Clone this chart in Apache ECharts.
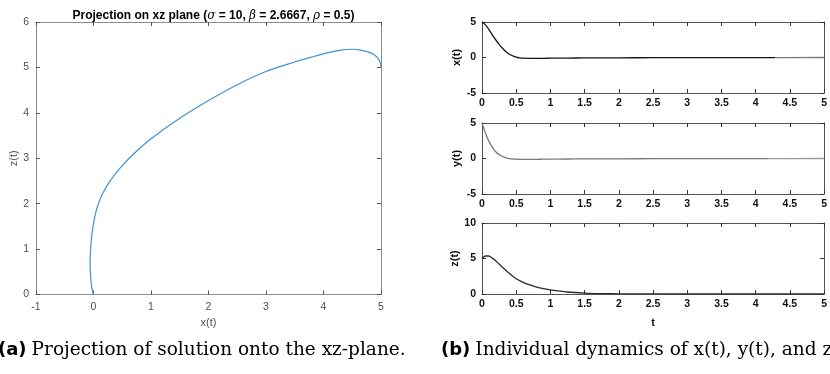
<!DOCTYPE html>
<html><head><meta charset="utf-8">
<script src="https://cdn.jsdelivr.net/npm/echarts@6/dist/echarts.min.js"></script>
<style>html,body{margin:0;padding:0;background:#fff}#c{width:830px;height:374px}</style>
</head><body><div id="c"></div>
<script>
// ---- data ----
const projX = [5, 4.99, 4.95, 4.88, 4.8, 4.65, 4.5, 4.3, 4.1, 3.8, 3.5, 3.0, 2.5, 2.0, 1.5, 1.0, 0.72, 0.48, 0.29, 0.15, 0.06, 0.01, -0.03, -0.05, -0.06, -0.05, -0.03, 0];
const projZ = [5.0, 5.1, 5.2, 5.28, 5.33, 5.38, 5.40, 5.38, 5.33, 5.23, 5.12, 4.91, 4.62, 4.27, 3.88, 3.43, 3.12, 2.81, 2.5, 2.2, 1.9, 1.64, 1.3, 1.0, 0.7, 0.4, 0.15, 0];
const tVals = [0, 0.05, 0.1, 0.15, 0.2, 0.25, 0.3, 0.35, 0.4, 0.45, 0.5, 0.55, 0.6, 0.7, 0.8, 0.9, 1.0, 1.25, 1.5, 1.75, 2.0, 2.5, 3, 4, 5];
const xVals = [5, 4.6, 3.95, 3.2, 2.5, 1.85, 1.3, 0.8, 0.45, 0.22, 0.05, -0.05, -0.1, -0.12, -0.12, -0.11, -0.1, -0.08, -0.06, -0.05, -0.04, -0.03, -0.02, -0.01, 0];
const yVals = [5, 3.6, 2.45, 1.6, 0.95, 0.55, 0.3, 0.1, -0.02, -0.07, -0.1, -0.11, -0.12, -0.12, -0.11, -0.1, -0.09, -0.07, -0.06, -0.05, -0.04, -0.03, -0.02, -0.01, 0];
const zVals = [5, 5.35, 5.35, 5.05, 4.68, 4.22, 3.75, 3.3, 2.9, 2.5, 2.15, 1.88, 1.65, 1.28, 0.98, 0.76, 0.58, 0.28, 0.13, 0.06, 0.03, 0.01, 0, 0, 0];
const tickLabelsLeftX = ['-1','0','1','2','3','4','5'];

// ---- chart ----
const chart = echarts.init(document.getElementById('c'), null, {renderer:'canvas'});
const sans = 'Liberation Sans';
const grids = [
  {left:36, right:449, top:22, height:272.5},
  {left:482, right:2, top:22, height:71},
  {left:482, right:2, top:123, height:71},
  {left:482, right:2, top:223, height:71}
];
function mkX(gi, pos, min, max, interval, opts) {
  const show = pos === 'bottom';
  return Object.assign({
    type:'value', gridIndex:gi, position:pos, min:min, max:max, interval:interval,
    splitLine:{show:false},
    axisLine:{show:true, onZero:false, lineStyle:{color: gi===0?'#8c8c8c':'#555', width:1}},
    axisTick:{show:true, inside:true, length:4, lineStyle:{color: gi===0?'#555':'#333'}},
    axisLabel:{show:show}
  }, opts||{});
}
function mkY(gi, pos, min, max, interval, opts) {
  const show = pos === 'left';
  return Object.assign({
    type:'value', gridIndex:gi, position:pos, min:min, max:max, interval:interval,
    splitLine:{show:false},
    axisLine:{show:true, onZero:false, lineStyle:{color: gi===0?'#8c8c8c':'#555', width:1}},
    axisTick:{show:true, inside:true, length:4, lineStyle:{color: gi===0?'#555':'#333'}},
    axisLabel:{show:show}
  }, opts||{});
}
const leftLbl = {show:true, color:'#4d4d4d', fontFamily:sans, fontSize:10.5, margin:7};
const rightLblX = {show:true, color:'#111', fontFamily:sans, fontWeight:'bold', fontSize:10.5, margin:5};
const rightLblY = {show:true, color:'#111', fontFamily:sans, fontWeight:'bold', fontSize:10.5, margin:6};
const xAxes = [
  mkX(0,'bottom',-1,5,1,{axisLabel:Object.assign({}, leftLbl, {formatter:(v)=>tickLabelsLeftX[Math.round(v)+1]}), name:'x(t)', nameLocation:'middle', nameGap:22, nameTextStyle:{color:'#4d4d4d', fontFamily:sans, fontSize:11}}),
  mkX(0,'top',-1,5,1),
  mkX(1,'bottom',0,5,0.5,{axisLabel:rightLblX}),
  mkX(1,'top',0,5,0.5),
  mkX(2,'bottom',0,5,0.5,{axisLabel:rightLblX}),
  mkX(2,'top',0,5,0.5),
  mkX(3,'bottom',0,5,0.5,{axisLabel:rightLblX, name:'t', nameLocation:'middle', nameGap:23, nameTextStyle:{color:'#111', fontFamily:sans, fontWeight:'bold', fontSize:11}}),
  mkX(3,'top',0,5,0.5)
];
const yName = (n)=>({name:n, nameLocation:'middle', nameRotate:90, nameGap:16, nameTextStyle:{color:'#111', fontFamily:sans, fontWeight:'bold', fontSize:11}});
const yAxes = [
  mkY(0,'left',0,6,1,{axisLabel:Object.assign({}, leftLbl, {margin:7}), name:'z(t)', nameLocation:'middle', nameRotate:90, nameGap:16, nameTextStyle:{color:'#4d4d4d', fontFamily:sans, fontSize:11}}),
  mkY(0,'right',0,6,1),
  mkY(1,'left',-5,5,5,Object.assign({axisLabel:rightLblY}, yName('x(t)'))),
  mkY(1,'right',-5,5,5),
  mkY(2,'left',-5,5,5,Object.assign({axisLabel:rightLblY}, yName('y(t)'))),
  mkY(2,'right',-5,5,5),
  mkY(3,'left',0,10,5,Object.assign({axisLabel:rightLblY}, yName('z(t)'))),
  mkY(3,'right',0,10,5)
];
const pairs = (a,b)=>a.map((v,i)=>[v,b[i]]);
const capRich = {
  b:{fontFamily:'DejaVu Sans', fontWeight:'bold', fontSize:18, color:'#000'},
  s:{fontFamily:'DejaVu Serif', fontWeight:'normal', fontSize:18.5, color:'#000'}
};
// hard colour switch along t (line rendering shade change seen in the reference)
function splitGrad(a, b, off) {
  return {type:'linear', x:0, y:0, x2:1, y2:0, colorStops:[
    {offset:0, color:a}, {offset:off, color:a}, {offset:off, color:b}, {offset:1, color:b}]};
}
const option = {
  animation:false,
  backgroundColor:'#fff',
  title:[
    {text:'Projection on xz plane ({i|σ} = 10, {i|β} = 2.6667, {i|ρ} = 0.5)', left:208.5, textAlign:'center', top:5,
     textStyle:{fontFamily:sans, fontWeight:'bold', fontSize:12, color:'#000',
       rich:{i:{fontFamily:'DejaVu Serif', fontStyle:'italic', fontWeight:'normal', fontSize:12, color:'#000'}}}},
    {text:'{b|(a)} {s|Projection of solution onto the xz-plane.}', left:-7, top:336,
     textStyle:{fontWeight:'normal', rich:capRich}},
    {text:'{b|(b)} {s|Individual dynamics of x(t), y(t), and z(t).}', left:436, top:336,
     textStyle:{fontWeight:'normal', rich:capRich}}
  ],
  grid:grids,
  xAxis:xAxes,
  yAxis:yAxes,
  series:[
    {type:'line', xAxisIndex:0, yAxisIndex:0, data:pairs(projX,projZ), smooth:0.35, showSymbol:false, lineStyle:{color:'#3f93d2', width:1.2}},
    {type:'line', xAxisIndex:2, yAxisIndex:2, data:pairs(tVals,xVals), smooth:0.3, showSymbol:false, lineStyle:{color:splitGrad('#151515','#7a7a7a',0.85), width:1.3}},
    {type:'line', xAxisIndex:4, yAxisIndex:4, data:pairs(tVals,yVals), smooth:0.3, showSymbol:false, lineStyle:{color:splitGrad('#7a7a7a','#9a9a9a',0.83), width:1.3}},
    {type:'line', xAxisIndex:6, yAxisIndex:6, data:pairs(tVals,zVals), smooth:0.3, showSymbol:false, lineStyle:{color:'#2a2a2a', width:1.3}}
  ]
};
chart.setOption(option);
</script></body></html>
